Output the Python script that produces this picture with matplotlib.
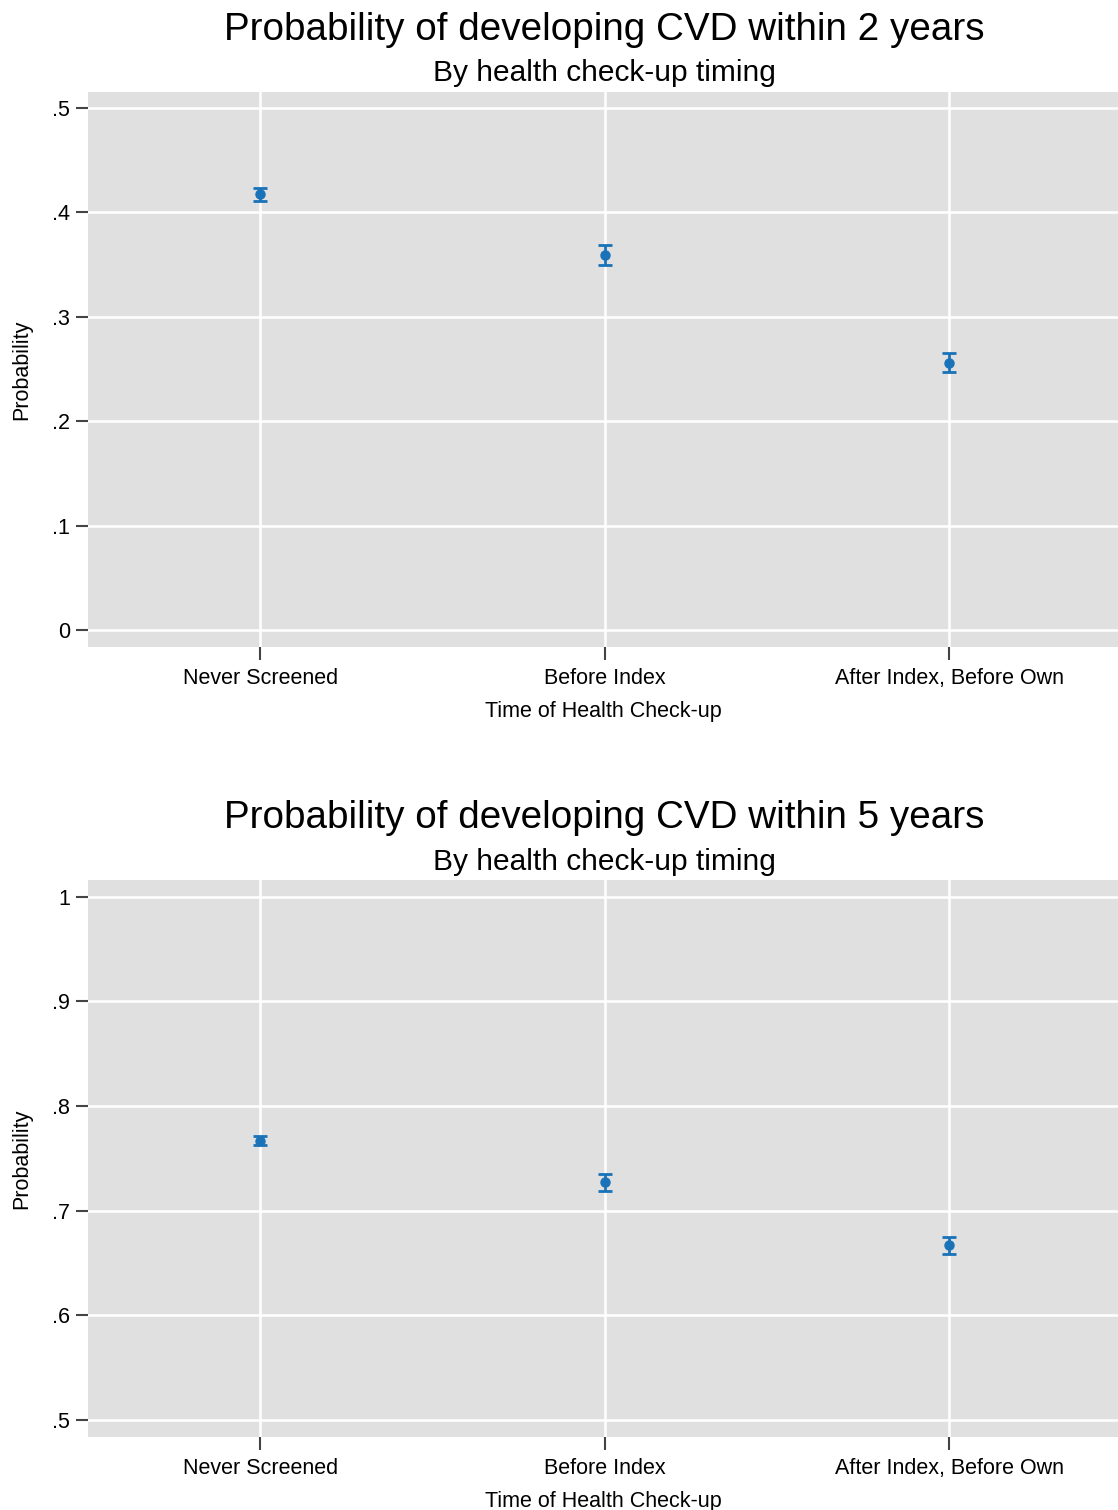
import matplotlib
matplotlib.use("Agg")
import matplotlib.pyplot as plt
from matplotlib.ticker import FuncFormatter

categories = ["Never Screened", "Before Index", "After Index, Before Own"]
prob_2y = [0.417, 0.359, 0.256]
err_2y = [0.006, 0.010, 0.009]
prob_5y = [0.767, 0.727, 0.667]
err_5y = [0.004, 0.008, 0.008]
yticks_2y = [0, 0.1, 0.2, 0.3, 0.4, 0.5]
yticks_5y = [0.5, 0.6, 0.7, 0.8, 0.9, 1.0]

plt.rcParams['font.family'] = ['Liberation Sans', 'DejaVu Sans']

W, H = 1118, 1510
fig = plt.figure(figsize=(W/100, H/100), dpi=100)
fig.patch.set_facecolor('white')

def fmt(v, pos):
    if abs(v) < 1e-9:
        return "0"
    if abs(v - 1) < 1e-9:
        return "1"
    return ("%.1f" % v).lstrip("0")

panels = [
    (prob_2y, err_2y, yticks_2y, (-0.0163, 0.515), 647, 92, "2", 30, 73),
    (prob_5y, err_5y, yticks_5y, (0.4837, 1.016), 1437, 880, "5", 818, 862),
]
color = '#1a73b8'
for vals, errs, yt, ylim, bot_px, top_px, yrs, ty, sy in panels:
    ax = fig.add_axes([88/W, 1 - bot_px/H, (W-88)/W, (bot_px-top_px)/H])
    ax.set_facecolor('#e0e0e0')
    xs = list(range(1, len(categories)+1))
    ax.errorbar(xs, vals, yerr=errs, fmt='o', color=color, ecolor=color,
                markersize=6.5, capsize=5, elinewidth=2, capthick=2, zorder=3)
    ax.set_xlim(0.5, 3.49)
    ax.set_ylim(*ylim)
    ax.set_xticks(xs)
    ax.set_xticklabels(categories, fontsize=15.5)
    ax.set_yticks(yt)
    ax.yaxis.set_major_formatter(FuncFormatter(fmt))
    ax.tick_params(axis='y', labelsize=15.5, length=9, width=1.5, color='#444444', pad=4)
    ax.tick_params(axis='x', labelsize=15.5, length=9, width=1.5, color='#444444', pad=6)
    for s in ax.spines.values():
        s.set_visible(False)
    ax.grid(True, color='white', linewidth=1.8, zorder=0)
    ax.set_axisbelow(True)
    ax.set_ylabel("Probability", fontsize=15.5, labelpad=14)
    ax.set_xlabel("Time of Health Check-up", fontsize=15.5, labelpad=9)
    fig.text(604/W, 1 - ty/H, "Probability of developing CVD within %s years" % yrs,
             ha='center', va='center', fontsize=27.8)
    fig.text(604/W, 1 - sy/H, "By health check-up timing", ha='center', va='center', fontsize=21.5)

fig.savefig("out.png", dpi=100)
